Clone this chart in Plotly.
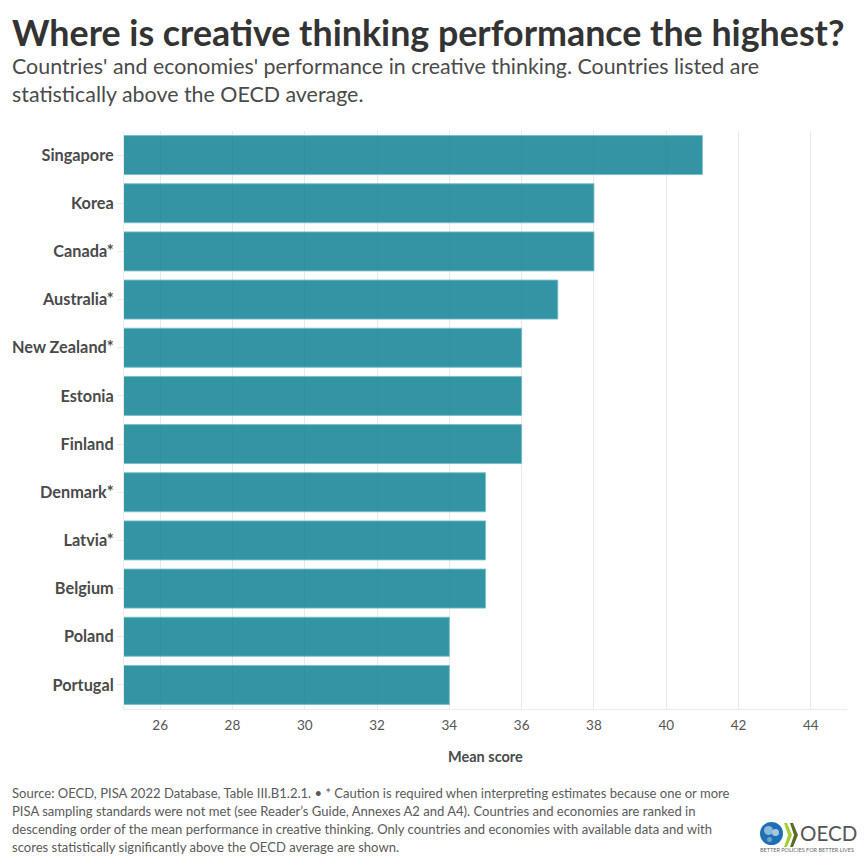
import plotly.graph_objects as go

countries = ["Singapore", "Korea", "Canada*", "Australia*", "New Zealand*", "Estonia",
             "Finland", "Denmark*", "Latvia*", "Belgium", "Poland", "Portugal"]
scores = [41, 38, 38, 37, 36, 36, 36, 35, 35, 35, 34, 34]
x_ticks = [26, 28, 30, 32, 34, 36, 38, 40, 42, 44]

title = "Where is creative thinking performance the highest?"
subtitle = ("Countries' and economies' performance in creative thinking. Countries listed are<br>"
            "statistically above the OECD average.")
source_lines = [
    "Source: OECD, PISA 2022 Database, Table III.B1.2.1. • * Caution is required when interpreting estimates because one or more",
    "PISA sampling standards were not met (see Reader’s Guide, Annexes A2 and A4). Countries and economies are ranked in",
    "descending order of the mean performance in creative thinking. Only countries and economies with available data and with",
    "scores statistically significantly above the OECD average are shown.",
]

font = "Lato"


# page pixels to paper coords (the page has an 8px body margin)
def px(x):
    return (x - 124) / 723


def py(y):
    return (709 - y) / 578


def note(x, y, text, size, color, xanchor="left", yanchor="top"):
    fig.add_annotation(xref="paper", yref="paper", x=px(x), y=py(y), xanchor=xanchor, yanchor=yanchor,
                       text=text, showarrow=False, align="left", borderpad=0,
                       font=dict(size=size, color=color, family=font))


def chevron(x, color):
    path = (f"M {px(x)} {py(823)} L {px(x + 3)} {py(823)} L {px(x + 8)} {py(835)} L {px(x + 3)} {py(847)} "
            f"L {px(x)} {py(847)} L {px(x + 4)} {py(835)} Z")
    fig.add_shape(type="path", xref="paper", yref="paper", path=path, fillcolor=color, line_width=0)


def blob(x0, x1, y0, y1, color):
    fig.add_shape(type="circle", xref="paper", yref="paper", x0=px(x0), x1=px(x1), y0=py(y1), y1=py(y0),
                  fillcolor=color, line_width=0)


fig = go.Figure(go.Bar(
    x=scores, y=countries, orientation="h",
    width=0.81,
    marker=dict(color="rgba(0,122,140,0.8)", line=dict(color="rgba(120,190,200,0.9)", width=1)),
))

fig.update_layout(
    width=850, height=850, autosize=False,
    margin=dict(l=116, r=11, t=123, b=149),
    paper_bgcolor="white", plot_bgcolor="white",
    font=dict(family=font, color="#4a4a4a"),
    showlegend=False,
    xaxis=dict(range=[25, 45], tickvals=x_ticks, showgrid=True, gridcolor="#e9e9e9", gridwidth=1,
               zeroline=False, showline=True, linecolor="#ebebeb", linewidth=1, ticks="", automargin=False,
               ticklabelstandoff=4, tickfont=dict(size=13.5, color="#555555")),
    yaxis=dict(categoryorder="array", categoryarray=countries[::-1], range=[-0.5, 11.5],
               tickmode="array", tickvals=countries, ticktext=["<b>" + c + "</b>" for c in countries],
               showgrid=False, zeroline=False, ticks="outside", ticklen=6, tickcolor="#ebebeb", automargin=False,
               showline=True, linecolor="#ebebeb", linewidth=1,
               tickfont=dict(size=16.3, color="#4a4a4a", family=font)),
)

note(11, 10, "<b>" + title + "</b>", 35.8, "#333333")
note(11, 52, subtitle, 21.4, "#4a4a4a")
note(485.5, 756, "<b>Mean score</b>", 14.5, "#4a4a4a", xanchor="center", yanchor="middle")
for line, y in zip(source_lines, [793, 811, 829, 847]):
    note(11, y, line, 13.05, "#5a5a5a", yanchor="middle")

# OECD logo
blob(760, 783, 822, 845, "#1f6fb5")
blob(764, 773, 826, 835, "#8fb9d8")
blob(772, 779, 829, 836, "#a9c7dc")
blob(767, 772, 837, 842, "#6fa3c9")
chevron(784, "#a6ce39")
chevron(790, "#5a6b2a")
note(799, 833, "OECD", 20.5, "#555555", yanchor="middle")
note(759, 850, "BETTER POLICIES FOR BETTER LIVES", 5.5, "#666666", yanchor="middle")

fig.write_html("out.html")
